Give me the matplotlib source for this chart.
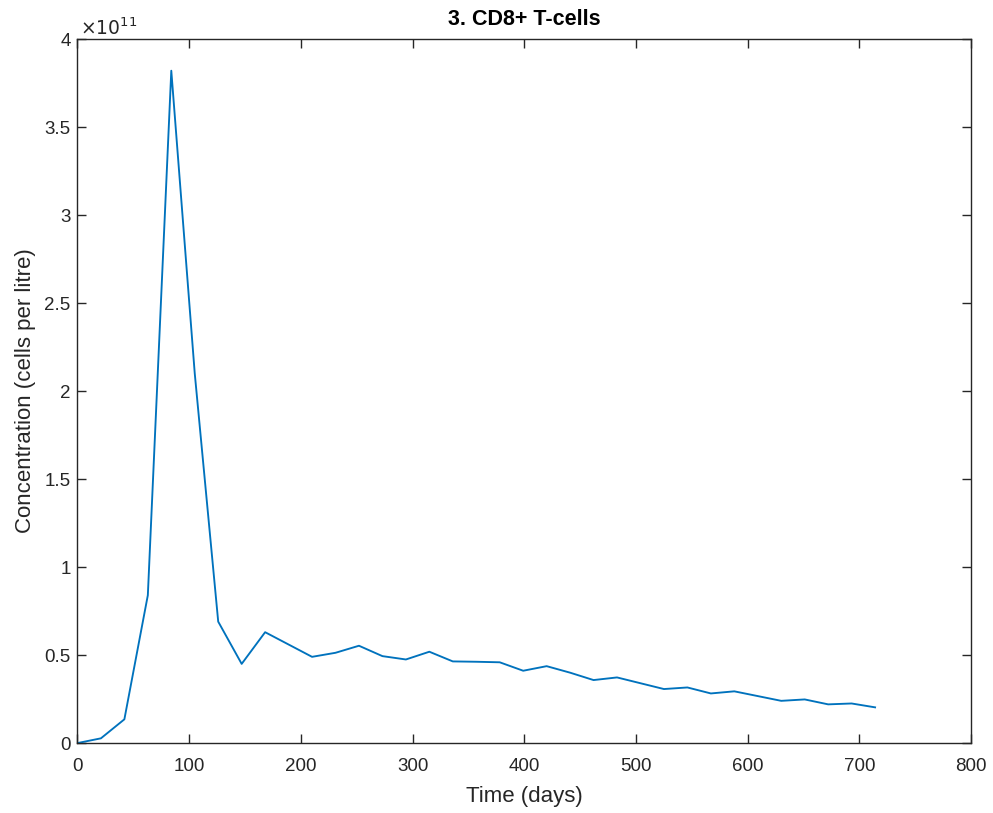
import numpy as np
import matplotlib
matplotlib.use('Agg')
import matplotlib.pyplot as plt
from matplotlib.ticker import FuncFormatter

plt.rcParams['font.family'] = ['Liberation Sans', 'DejaVu Sans']

# Time points (days) and CD8+ T-cell concentration (x 1e11 cells per litre)
days = [0, 21, 42, 63, 84, 105, 126, 147, 168, 189, 210, 231, 252, 273, 294,
        315, 336, 357, 378, 399, 420, 441, 462, 483, 504, 525, 546, 567, 588,
        609, 630, 651, 672, 693, 714]
conc = [0.0, 0.027, 0.135, 0.84, 3.82, 2.1, 0.69, 0.45, 0.63, 0.56, 0.49,
        0.513, 0.553, 0.494, 0.475, 0.519, 0.464, 0.462, 0.459, 0.411, 0.437,
        0.40, 0.358, 0.373, 0.34, 0.307, 0.316, 0.282, 0.294, 0.267, 0.240,
        0.248, 0.220, 0.225, 0.203]
xticks = list(range(0, 801, 100))
yticks = [0, 0.5, 1, 1.5, 2, 2.5, 3, 3.5, 4]

axcol = '#262626'

fig = plt.figure(figsize=(9.93, 8.13), dpi=100)
ax = fig.add_axes([0.078, 0.086, 0.900, 0.866])
ax.plot(days, conc, color='#0072BD', lw=1.35)

ax.set_xlim(0, 800)
ax.set_ylim(0, 4)
ax.set_xticks(xticks)
ax.set_yticks(yticks)
ax.yaxis.set_major_formatter(FuncFormatter(lambda v, p: '%g' % v))
ax.tick_params(direction='in', length=6.5, width=1.0, top=True, right=True,
               labelsize=13.5, colors=axcol)
ax.tick_params(axis='x', pad=11)
ax.tick_params(axis='y', pad=5)
for s in ax.spines.values():
    s.set_color(axcol)
    s.set_linewidth(1.0)

ax.set_xlabel('Time (days)', fontsize=16, color=axcol, labelpad=8)
ax.set_ylabel('Concentration (cells per litre)', fontsize=16, color=axcol, labelpad=6)
ax.set_title('3. CD8+ T-cells', fontsize=15.5, fontweight='bold', color='black', pad=10)
ax.text(0.003, 1.0, r'$\times10^{11}$', transform=ax.transAxes, fontsize=13.5,
        color=axcol, ha='left', va='bottom')

fig.savefig('out.png', dpi=100)
